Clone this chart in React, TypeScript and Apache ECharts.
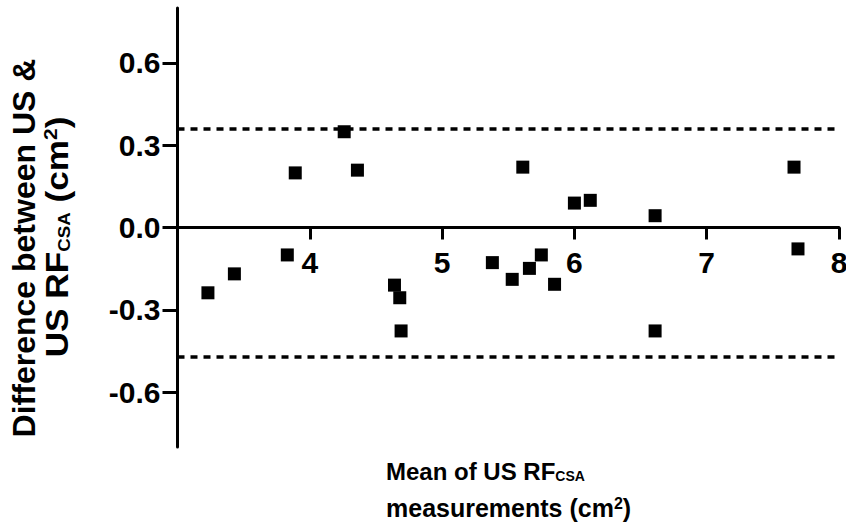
import React, { useEffect, useRef } from "react";
import * as echarts from "echarts";

const meanValues = [3.23, 3.43, 3.83, 3.89, 4.26, 4.36, 4.64, 4.68, 4.69, 5.38, 5.53, 5.61, 5.66, 5.75, 5.85, 6.0, 6.12, 6.61, 6.61, 7.66, 7.69];
const diffValues = [-0.238, -0.169, -0.1, 0.199, 0.349, 0.209, -0.21, -0.256, -0.377, -0.128, -0.189, 0.22, -0.149, -0.1, -0.207, 0.089, 0.099, 0.043, -0.377, 0.22, -0.078];
const limitsOfAgreement = [0.364, -0.466];
const xTickValues = [4, 5, 6, 7, 8];
const yTickValues = [-0.6, -0.3, 0, 0.3, 0.6];

const FONT = '"Liberation Sans", Arial, Helvetica, sans-serif';
const GRID_TOP = 8;
const GRID_BOTTOM = 80;
const HEIGHT = 527;

export default function App() {
  const ref = useRef<HTMLDivElement>(null);
  useEffect(() => {
    if (!ref.current) return;
    const chart = echarts.init(ref.current, null, { renderer: "svg" });
    const points = meanValues.map((x, i) => [x, diffValues[i]]);
    const gridH = HEIGHT - GRID_TOP - GRID_BOTTOM;
    const yMin = -0.8;
    const yMax = 0.8;
    const zeroOffset = -(gridH * (0 - yMin)) / (yMax - yMin);
    chart.setOption({
      animation: false,
      backgroundColor: "#ffffff",
      textStyle: { fontFamily: FONT },
      grid: { left: 177.5, right: 7, top: GRID_TOP, bottom: GRID_BOTTOM, containLabel: false, outerBoundsMode: "none" },
      xAxis: {
        type: "value",
        min: 3,
        max: 8,
        interval: 1,
        offset: zeroOffset,
        axisLine: { onZero: false, lineStyle: { color: "#000", width: 3 } },
        axisTick: { show: true, length: 12, lineStyle: { color: "#000", width: 3 }, customValues: xTickValues },
        axisLabel: {
          customValues: xTickValues,
          margin: 20,
          color: "#000",
          fontSize: 30,
          fontWeight: "bold",
          fontFamily: FONT,
        },
        splitLine: { show: false },
      },
      yAxis: {
        type: "value",
        min: yMin,
        max: yMax,
        axisLine: { onZero: false, lineStyle: { color: "#000", width: 3 } },
        axisTick: { show: true, length: 15, lineStyle: { color: "#000", width: 3 }, customValues: yTickValues },
        axisLabel: {
          customValues: yTickValues,
          margin: 17,
          color: "#000",
          fontSize: 30,
          fontWeight: "bold",
          fontFamily: FONT,
          formatter: (v: number) => v.toFixed(1),
        },
        splitLine: { show: false },
      },
      graphic: [
        {
          type: "text",
          x: 24,
          y: 248,
          rotation: Math.PI / 2,
          style: {
            text: "Difference between US &",
            font: `bold 32px ${FONT}`,
            fill: "#000",
            textAlign: "center",
            textVerticalAlign: "middle",
          },
        },
        {
          type: "text",
          x: 57,
          y: 237,
          rotation: Math.PI / 2,
          scaleX: 1.1,
          style: {
            text: "US RF{sub|CSA} (cm{sup|2})",
            font: `bold 32px ${FONT}`,
            fill: "#000",
            textAlign: "center",
            textVerticalAlign: "middle",
            rich: {
              sub: { fontSize: 17, fontWeight: "bold", fontFamily: FONT, verticalAlign: "bottom", fill: "#000" },
              sup: { fontSize: 19, fontWeight: "bold", fontFamily: FONT, verticalAlign: "top", fill: "#000" },
            },
          },
        },
        {
          type: "text",
          x: 386,
          y: 471,
          style: {
            text: "Mean of US RF{sub|CSA}",
            font: `bold 24px ${FONT}`,
            fill: "#000",
            textAlign: "left",
            textVerticalAlign: "middle",
            rich: {
              sub: { fontSize: 14, fontWeight: "bold", fontFamily: FONT, verticalAlign: "bottom", fill: "#000" },
            },
          },
        },
        {
          type: "text",
          x: 386,
          y: 508,
          style: {
            text: "measurements (cm{sup|2})",
            font: `bold 25px ${FONT}`,
            fill: "#000",
            textAlign: "left",
            textVerticalAlign: "middle",
            rich: {
              sup: { fontSize: 16, fontWeight: "bold", fontFamily: FONT, verticalAlign: "top", fill: "#000" },
            },
          },
        },
      ],
      series: [
        {
          type: "scatter",
          data: points,
          symbol: "rect",
          symbolSize: 13,
          itemStyle: { color: "#000", opacity: 1 },
          markLine: {
            silent: true,
            symbol: "none",
            label: { show: false },
            lineStyle: { color: "#000", width: 3.5, type: [7, 6], opacity: 1 },
            data: limitsOfAgreement.map((v) => ({ yAxis: v })),
          },
        },
      ],
    });
    return () => chart.dispose();
  }, []);
  return <div ref={ref} style={{ position: "fixed", left: 0, top: 0, width: 846, height: 527 }} />;
}
